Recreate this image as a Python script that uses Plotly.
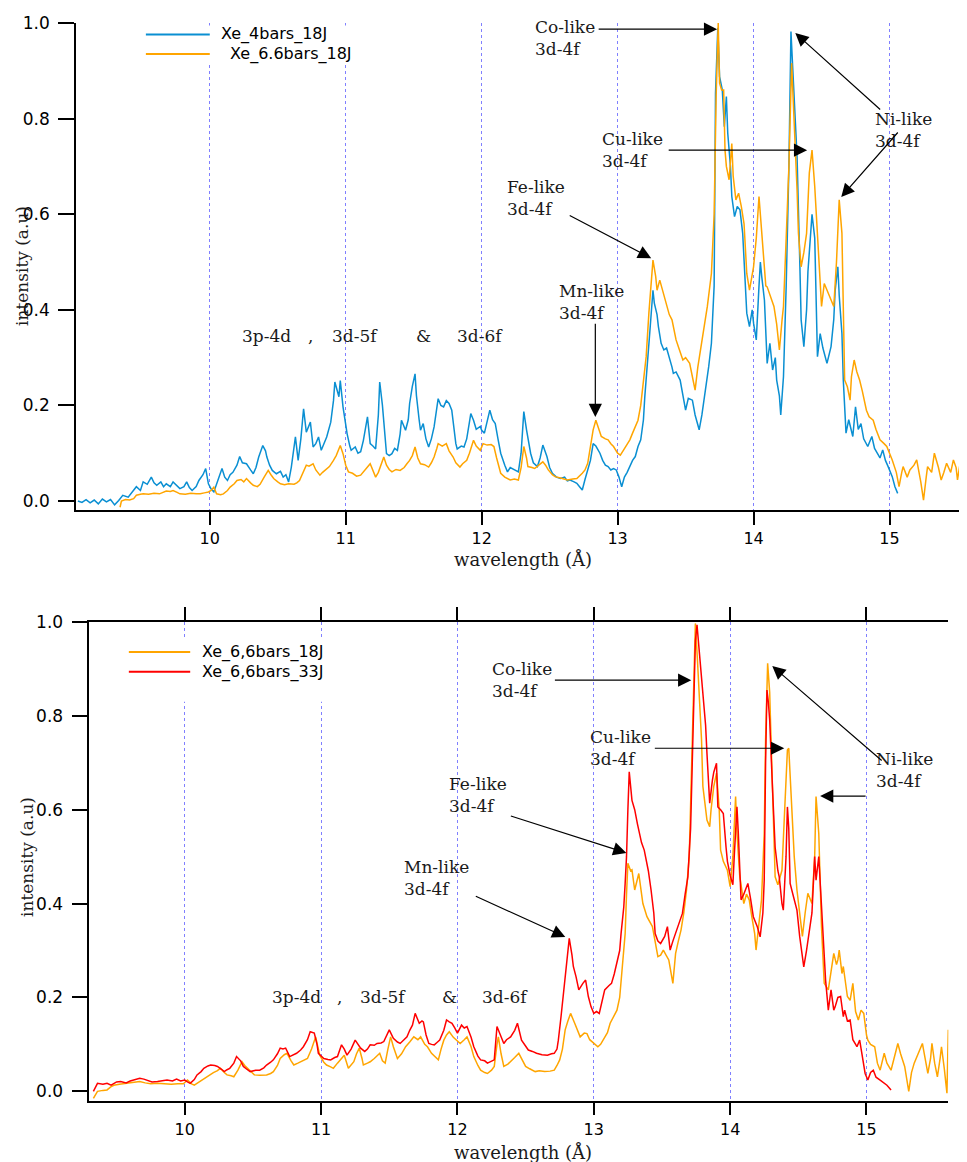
import plotly.graph_objects as go

# page is 967x1162; the html body keeps its default 8px margin, so the figure is 8px smaller
PAGE_W, PAGE_H = 967, 1162
FW, FH = PAGE_W - 8, PAGE_H - 8


def fx(px):
    return (px - 8) / FW


def fy(py):
    return 1 - (py - 8) / FH


# ---- spectra: (wavelength in A, normalised intensity) ----
# top panel
xe_4bars_18J = [
    (9.03, 0.0), (9.06, -0.003), (9.09, 0.003), (9.12, -0.004), (9.15, 0.002), (9.18, -0.006), (9.21, 0.004),
    (9.24, -0.002), (9.27, 0.003), (9.30, -0.008), (9.33, 0.001), (9.36, 0.012), (9.40, 0.008), (9.43, 0.02),
    (9.46, 0.03), (9.49, 0.022), (9.51, 0.04), (9.54, 0.035), (9.57, 0.05), (9.59, 0.038), (9.61, 0.033),
    (9.64, 0.04), (9.66, 0.03), (9.68, 0.036), (9.71, 0.03), (9.73, 0.04), (9.76, 0.032), (9.78, 0.026),
    (9.81, 0.03), (9.83, 0.04), (9.85, 0.028), (9.87, 0.022), (9.90, 0.03), (9.92, 0.043), (9.95, 0.055),
    (9.97, 0.068), (9.99, 0.036), (10.01, 0.025), (10.03, 0.019), (10.06, 0.043), (10.09, 0.068), (10.11, 0.05),
    (10.13, 0.043), (10.15, 0.055), (10.17, 0.06), (10.20, 0.075), (10.22, 0.093), (10.24, 0.08), (10.27, 0.078),
    (10.30, 0.065), (10.32, 0.057), (10.34, 0.07), (10.36, 0.092), (10.39, 0.116), (10.41, 0.105), (10.42, 0.092),
    (10.44, 0.075), (10.46, 0.064), (10.49, 0.057), (10.52, 0.062), (10.54, 0.05), (10.56, 0.055), (10.58, 0.04),
    (10.60, 0.071), (10.63, 0.134), (10.65, 0.085), (10.67, 0.13), (10.69, 0.193), (10.71, 0.144), (10.74, 0.165),
    (10.76, 0.113), (10.78, 0.12), (10.80, 0.134), (10.82, 0.106), (10.84, 0.12), (10.86, 0.134), (10.89, 0.165),
    (10.91, 0.21), (10.92, 0.249), (10.94, 0.23), (10.95, 0.218), (10.96, 0.252), (10.98, 0.197), (11.00, 0.16),
    (11.01, 0.141), (11.03, 0.115), (11.04, 0.106), (11.07, 0.113), (11.09, 0.1), (11.11, 0.103), (11.13, 0.127),
    (11.16, 0.176), (11.18, 0.12), (11.20, 0.115), (11.22, 0.109), (11.24, 0.18), (11.25, 0.249), (11.27, 0.2),
    (11.28, 0.162), (11.30, 0.099), (11.32, 0.095), (11.34, 0.099), (11.36, 0.11), (11.38, 0.106), (11.40, 0.14),
    (11.41, 0.169), (11.44, 0.148), (11.46, 0.17), (11.47, 0.204), (11.49, 0.24), (11.51, 0.266), (11.52, 0.221),
    (11.54, 0.17), (11.55, 0.148), (11.57, 0.162), (11.59, 0.13), (11.61, 0.113), (11.63, 0.13), (11.65, 0.155),
    (11.67, 0.2), (11.68, 0.214), (11.70, 0.2), (11.72, 0.197), (11.74, 0.21), (11.76, 0.204), (11.78, 0.19),
    (11.79, 0.162), (11.81, 0.12), (11.82, 0.109), (11.85, 0.115), (11.87, 0.113), (11.89, 0.13), (11.91, 0.165),
    (11.92, 0.183), (11.94, 0.169), (11.96, 0.15), (11.99, 0.156), (12.00, 0.148), (12.02, 0.142), (12.04, 0.165),
    (12.06, 0.19), (12.08, 0.17), (12.10, 0.162), (12.12, 0.13), (12.14, 0.1), (12.17, 0.075), (12.19, 0.061),
    (12.21, 0.07), (12.24, 0.065), (12.27, 0.061), (12.29, 0.1), (12.31, 0.187), (12.33, 0.149), (12.36, 0.1),
    (12.38, 0.08), (12.41, 0.072), (12.43, 0.09), (12.45, 0.117), (12.48, 0.093), (12.50, 0.07), (12.52, 0.058),
    (12.55, 0.05), (12.58, 0.047), (12.61, 0.05), (12.63, 0.042), (12.65, 0.044), (12.68, 0.04), (12.70, 0.037),
    (12.72, 0.03), (12.74, 0.023), (12.76, 0.045), (12.78, 0.065), (12.80, 0.085), (12.82, 0.12), (12.84, 0.115),
    (12.87, 0.1), (12.89, 0.085), (12.91, 0.075), (12.93, 0.072), (12.95, 0.065), (12.97, 0.068), (12.99, 0.065),
    (13.01, 0.05), (13.03, 0.03), (13.05, 0.05), (13.07, 0.06), (13.09, 0.072), (13.11, 0.085), (13.13, 0.093),
    (13.15, 0.114), (13.17, 0.128), (13.19, 0.17), (13.20, 0.218), (13.22, 0.3), (13.24, 0.365), (13.26, 0.441),
    (13.27, 0.414), (13.29, 0.39), (13.30, 0.365), (13.32, 0.33), (13.34, 0.316), (13.36, 0.32), (13.38, 0.302),
    (13.40, 0.28), (13.41, 0.267), (13.43, 0.27), (13.46, 0.253), (13.48, 0.22), (13.50, 0.19), (13.52, 0.215),
    (13.55, 0.211), (13.57, 0.18), (13.60, 0.149), (13.62, 0.18), (13.64, 0.218), (13.66, 0.26), (13.67, 0.281),
    (13.69, 0.33), (13.71, 0.45), (13.72, 0.853), (13.737, 0.99), (13.75, 0.888), (13.77, 0.86), (13.785, 0.783),
    (13.80, 0.846), (13.81, 0.77), (13.83, 0.70), (13.84, 0.637), (13.86, 0.595), (13.88, 0.616), (13.90, 0.609),
    (13.92, 0.56), (13.94, 0.45), (13.95, 0.393), (13.97, 0.365), (13.99, 0.4), (14.00, 0.372), (14.02, 0.337),
    (14.04, 0.45), (14.05, 0.50), (14.06, 0.47), (14.08, 0.42), (14.10, 0.288), (14.12, 0.33), (14.14, 0.274),
    (14.16, 0.3), (14.17, 0.253), (14.19, 0.22), (14.20, 0.18), (14.22, 0.26), (14.24, 0.45), (14.26, 0.70),
    (14.275, 0.982), (14.29, 0.9), (14.30, 0.853), (14.32, 0.72), (14.34, 0.5), (14.35, 0.379), (14.37, 0.323),
    (14.39, 0.4), (14.40, 0.48), (14.42, 0.56), (14.43, 0.6), (14.45, 0.55), (14.47, 0.302), (14.49, 0.35),
    (14.51, 0.32), (14.54, 0.288), (14.57, 0.323), (14.59, 0.38), (14.60, 0.44), (14.62, 0.49), (14.63, 0.43),
    (14.65, 0.35), (14.66, 0.253), (14.68, 0.142), (14.70, 0.17), (14.73, 0.135), (14.75, 0.197), (14.77, 0.15),
    (14.79, 0.162), (14.81, 0.13), (14.84, 0.114), (14.87, 0.135), (14.89, 0.11), (14.91, 0.1), (14.93, 0.09),
    (14.95, 0.107), (14.97, 0.085), (14.99, 0.072), (15.02, 0.051), (15.04, 0.03), (15.06, 0.016),
]

xe_6p6bars_18J_top = [
    (9.34, -0.013), (9.35, 0.0), (9.38, 0.003), (9.41, 0.002), (9.44, 0.005), (9.46, 0.012), (9.49, 0.014),
    (9.51, 0.015), (9.55, 0.014), (9.59, 0.016), (9.63, 0.015), (9.66, 0.018), (9.68, 0.021), (9.71, 0.02),
    (9.73, 0.022), (9.76, 0.018), (9.78, 0.015), (9.82, 0.014), (9.86, 0.016), (9.90, 0.015), (9.93, 0.015),
    (9.96, 0.017), (9.99, 0.019), (10.01, 0.022), (10.03, 0.029), (10.05, 0.015), (10.08, 0.013), (10.10, 0.015),
    (10.13, 0.022), (10.15, 0.029), (10.18, 0.036), (10.20, 0.043), (10.23, 0.045), (10.25, 0.04), (10.27, 0.047),
    (10.30, 0.038), (10.32, 0.033), (10.35, 0.03), (10.37, 0.035), (10.40, 0.05), (10.43, 0.064), (10.45, 0.055),
    (10.47, 0.047), (10.50, 0.04), (10.52, 0.036), (10.55, 0.034), (10.58, 0.036), (10.62, 0.035), (10.64, 0.038),
    (10.66, 0.043), (10.68, 0.055), (10.71, 0.075), (10.73, 0.073), (10.76, 0.078), (10.78, 0.065), (10.81, 0.054),
    (10.83, 0.06), (10.86, 0.068), (10.88, 0.072), (10.91, 0.085), (10.93, 0.095), (10.96, 0.116), (10.98, 0.099),
    (11.00, 0.075), (11.02, 0.061), (11.05, 0.058), (11.08, 0.052), (11.11, 0.054), (11.13, 0.06), (11.16, 0.071),
    (11.18, 0.078), (11.20, 0.065), (11.22, 0.05), (11.24, 0.06), (11.26, 0.075), (11.28, 0.092), (11.30, 0.075),
    (11.32, 0.066), (11.34, 0.061), (11.37, 0.066), (11.40, 0.064), (11.43, 0.07), (11.45, 0.078), (11.47, 0.085),
    (11.49, 0.095), (11.51, 0.113), (11.53, 0.09), (11.55, 0.078), (11.58, 0.076), (11.61, 0.071), (11.63, 0.08),
    (11.65, 0.092), (11.67, 0.11), (11.68, 0.12), (11.71, 0.115), (11.74, 0.12), (11.76, 0.105), (11.79, 0.092),
    (11.81, 0.08), (11.84, 0.071), (11.86, 0.078), (11.89, 0.085), (11.91, 0.1), (11.94, 0.127), (11.96, 0.115),
    (11.99, 0.106), (12.01, 0.12), (12.04, 0.117), (12.07, 0.118), (12.09, 0.114), (12.11, 0.09), (12.14, 0.058),
    (12.17, 0.05), (12.21, 0.044), (12.24, 0.046), (12.27, 0.044), (12.29, 0.07), (12.31, 0.114), (12.33, 0.09),
    (12.34, 0.072), (12.37, 0.07), (12.39, 0.068), (12.42, 0.075), (12.45, 0.082), (12.47, 0.075), (12.49, 0.065),
    (12.52, 0.055), (12.54, 0.051), (12.58, 0.048), (12.63, 0.044), (12.67, 0.046), (12.70, 0.047), (12.74, 0.058),
    (12.76, 0.065), (12.78, 0.079), (12.80, 0.11), (12.82, 0.149), (12.84, 0.169), (12.86, 0.15), (12.88, 0.135),
    (12.91, 0.13), (12.93, 0.128), (12.95, 0.12), (12.97, 0.114), (13.00, 0.1), (13.02, 0.096), (13.04, 0.105),
    (13.06, 0.114), (13.09, 0.128), (13.11, 0.142), (13.13, 0.155), (13.15, 0.169), (13.17, 0.2), (13.19, 0.253),
    (13.21, 0.302), (13.23, 0.393), (13.24, 0.434), (13.26, 0.504), (13.28, 0.47), (13.29, 0.441), (13.31, 0.462),
    (13.34, 0.43), (13.36, 0.407), (13.38, 0.39), (13.40, 0.379), (13.43, 0.337), (13.45, 0.32), (13.48, 0.295),
    (13.50, 0.3), (13.53, 0.288), (13.55, 0.26), (13.57, 0.232), (13.59, 0.28), (13.61, 0.316), (13.63, 0.36),
    (13.66, 0.407), (13.69, 0.476), (13.71, 0.6), (13.725, 0.85), (13.74, 1.0), (13.75, 0.874), (13.765, 0.86),
    (13.78, 0.86), (13.79, 0.734), (13.80, 0.7), (13.82, 0.672), (13.84, 0.748), (13.85, 0.68), (13.87, 0.63),
    (13.89, 0.644), (13.91, 0.616), (13.93, 0.58), (13.95, 0.476), (13.97, 0.441), (14.00, 0.49), (14.02, 0.55),
    (14.04, 0.637), (14.05, 0.6), (14.07, 0.52), (14.09, 0.45), (14.10, 0.448), (14.12, 0.43), (14.15, 0.407),
    (14.17, 0.37), (14.19, 0.316), (14.21, 0.38), (14.22, 0.407), (14.24, 0.55), (14.26, 0.7), (14.28, 0.916),
    (14.29, 0.85), (14.30, 0.804), (14.32, 0.65), (14.33, 0.56), (14.35, 0.49), (14.37, 0.52), (14.39, 0.56),
    (14.41, 0.686), (14.43, 0.734), (14.45, 0.658), (14.47, 0.56), (14.49, 0.45), (14.50, 0.407), (14.52, 0.455),
    (14.54, 0.441), (14.57, 0.42), (14.59, 0.407), (14.61, 0.5), (14.63, 0.63), (14.65, 0.56), (14.66, 0.4),
    (14.67, 0.253), (14.69, 0.239), (14.71, 0.211), (14.72, 0.26), (14.74, 0.295), (14.76, 0.27), (14.78, 0.253),
    (14.80, 0.23), (14.81, 0.218), (14.83, 0.19), (14.85, 0.176), (14.88, 0.169), (14.90, 0.15), (14.93, 0.128),
    (14.96, 0.12), (14.98, 0.114), (15.00, 0.1), (15.02, 0.086), (15.05, 0.06), (15.07, 0.03), (15.09, 0.06),
    (15.10, 0.072), (15.13, 0.05), (15.15, 0.065), (15.18, 0.075), (15.20, 0.086), (15.23, 0.04), (15.25, 0.002),
    (15.27, 0.05), (15.28, 0.072), (15.31, 0.06), (15.33, 0.1), (15.36, 0.07), (15.38, 0.044), (15.40, 0.06),
    (15.42, 0.079), (15.45, 0.06), (15.47, 0.086), (15.49, 0.07), (15.50, 0.044), (15.52, 0.08), (15.53, 0.093),
    (15.54, 0.002), (15.56, 0.05), (15.57, 0.044),
]

# bottom panel
xe_6p6bars_18J_bot = [
    (9.33, -0.015), (9.36, 0.0), (9.40, 0.002), (9.43, 0.003), (9.46, 0.01), (9.48, 0.013), (9.52, 0.015),
    (9.55, 0.016), (9.60, 0.018), (9.64, 0.019), (9.67, 0.021), (9.71, 0.018), (9.75, 0.016), (9.80, 0.017),
    (9.85, 0.016), (9.90, 0.015), (9.95, 0.016), (9.99, 0.016), (10.02, 0.024), (10.05, 0.016), (10.07, 0.013),
    (10.09, 0.017), (10.11, 0.021), (10.14, 0.026), (10.16, 0.031), (10.19, 0.036), (10.21, 0.04), (10.24, 0.044),
    (10.26, 0.049), (10.29, 0.04), (10.31, 0.035), (10.34, 0.033), (10.36, 0.031), (10.39, 0.045), (10.42, 0.063),
    (10.44, 0.055), (10.46, 0.049), (10.49, 0.04), (10.51, 0.035), (10.55, 0.034), (10.60, 0.035), (10.63, 0.038),
    (10.65, 0.042), (10.68, 0.055), (10.70, 0.07), (10.73, 0.078), (10.75, 0.081), (10.78, 0.065), (10.80, 0.056),
    (10.83, 0.06), (10.85, 0.063), (10.88, 0.066), (10.90, 0.07), (10.93, 0.09), (10.96, 0.116), (10.98, 0.09),
    (10.99, 0.077), (11.02, 0.062), (11.04, 0.056), (11.07, 0.052), (11.09, 0.049), (11.12, 0.06), (11.15, 0.07),
    (11.17, 0.077), (11.20, 0.049), (11.22, 0.055), (11.24, 0.063), (11.26, 0.08), (11.28, 0.092), (11.30, 0.07),
    (11.31, 0.056), (11.34, 0.06), (11.36, 0.063), (11.39, 0.07), (11.43, 0.081), (11.45, 0.065), (11.47, 0.06),
    (11.49, 0.09), (11.51, 0.116), (11.53, 0.095), (11.56, 0.07), (11.59, 0.08), (11.62, 0.095), (11.65, 0.105),
    (11.68, 0.116), (11.71, 0.11), (11.73, 0.116), (11.76, 0.1), (11.78, 0.095), (11.81, 0.081), (11.84, 0.072),
    (11.86, 0.067), (11.88, 0.09), (11.90, 0.109), (11.92, 0.12), (11.94, 0.127), (11.97, 0.115), (11.99, 0.109),
    (12.02, 0.102), (12.05, 0.11), (12.07, 0.116), (12.10, 0.095), (12.12, 0.074), (12.15, 0.055), (12.17, 0.045),
    (12.20, 0.04), (12.22, 0.038), (12.25, 0.045), (12.27, 0.053), (12.29, 0.1), (12.30, 0.116), (12.32, 0.08),
    (12.34, 0.053), (12.37, 0.058), (12.39, 0.063), (12.42, 0.072), (12.45, 0.081), (12.48, 0.065), (12.50, 0.053),
    (12.53, 0.048), (12.57, 0.042), (12.60, 0.044), (12.64, 0.042), (12.68, 0.043), (12.71, 0.045), (12.73, 0.055),
    (12.75, 0.067), (12.77, 0.09), (12.79, 0.131), (12.81, 0.15), (12.83, 0.166), (12.86, 0.145), (12.88, 0.13),
    (12.90, 0.116), (12.93, 0.124), (12.95, 0.123), (12.97, 0.11), (13.00, 0.102), (13.03, 0.095), (13.05, 0.1),
    (13.08, 0.116), (13.10, 0.125), (13.12, 0.145), (13.15, 0.16), (13.17, 0.173), (13.19, 0.2), (13.20, 0.23),
    (13.22, 0.3), (13.23, 0.336), (13.24, 0.42), (13.25, 0.486), (13.27, 0.47), (13.28, 0.472), (13.30, 0.429),
    (13.33, 0.464), (13.36, 0.4), (13.39, 0.372), (13.43, 0.351), (13.45, 0.32), (13.47, 0.287), (13.49, 0.29),
    (13.51, 0.301), (13.53, 0.29), (13.55, 0.28), (13.58, 0.23), (13.60, 0.294), (13.62, 0.32), (13.64, 0.344),
    (13.66, 0.38), (13.68, 0.429), (13.70, 0.5), (13.72, 0.75), (13.735, 0.93), (13.745, 0.997), (13.76, 0.92),
    (13.77, 0.862), (13.78, 0.827), (13.79, 0.75), (13.80, 0.65), (13.82, 0.6), (13.83, 0.578), (13.85, 0.564),
    (13.86, 0.6), (13.88, 0.65), (13.90, 0.678), (13.92, 0.6), (13.93, 0.514), (13.95, 0.49), (13.98, 0.471),
    (14.00, 0.436), (14.02, 0.5), (14.04, 0.628), (14.05, 0.55), (14.07, 0.46), (14.10, 0.4), (14.12, 0.42),
    (14.14, 0.408), (14.16, 0.37), (14.18, 0.336), (14.19, 0.301), (14.21, 0.36), (14.23, 0.408), (14.25, 0.55),
    (14.26, 0.75), (14.275, 0.912), (14.29, 0.85), (14.30, 0.75), (14.32, 0.55), (14.33, 0.457), (14.35, 0.44),
    (14.38, 0.471), (14.40, 0.6), (14.42, 0.727), (14.43, 0.731), (14.45, 0.62), (14.47, 0.5), (14.49, 0.429),
    (14.51, 0.38), (14.53, 0.33), (14.55, 0.38), (14.57, 0.422), (14.60, 0.4), (14.62, 0.5), (14.63, 0.628),
    (14.65, 0.55), (14.67, 0.35), (14.69, 0.23), (14.72, 0.216), (14.74, 0.26), (14.76, 0.294), (14.78, 0.27),
    (14.79, 0.28), (14.80, 0.301), (14.82, 0.251), (14.83, 0.266), (14.86, 0.202), (14.88, 0.194), (14.90, 0.23),
    (14.92, 0.17), (14.94, 0.152), (14.96, 0.173), (14.98, 0.166), (15.00, 0.12), (15.01, 0.109), (15.03, 0.1),
    (15.06, 0.095), (15.08, 0.06), (15.10, 0.045), (15.13, 0.081), (15.15, 0.06), (15.18, 0.045), (15.20, 0.07),
    (15.23, 0.102), (15.25, 0.08), (15.28, 0.053), (15.31, 0.0), (15.33, 0.04), (15.35, 0.06), (15.38, 0.08),
    (15.41, 0.102), (15.43, 0.07), (15.45, 0.038), (15.47, 0.07), (15.48, 0.102), (15.50, 0.06), (15.52, 0.031),
    (15.54, 0.07), (15.55, 0.095), (15.57, 0.05), (15.59, -0.004), (15.60, 0.131),
]

xe_6p6bars_33J = [
    (9.33, 0.0), (9.36, 0.017), (9.40, 0.015), (9.43, 0.017), (9.46, 0.013), (9.50, 0.02), (9.53, 0.021),
    (9.57, 0.018), (9.60, 0.022), (9.63, 0.024), (9.67, 0.028), (9.70, 0.026), (9.72, 0.024), (9.76, 0.02),
    (9.80, 0.021), (9.84, 0.022), (9.87, 0.024), (9.91, 0.022), (9.94, 0.026), (9.97, 0.022), (10.00, 0.024),
    (10.02, 0.02), (10.04, 0.017), (10.07, 0.025), (10.09, 0.035), (10.12, 0.042), (10.14, 0.049), (10.17, 0.054),
    (10.19, 0.056), (10.22, 0.055), (10.24, 0.053), (10.27, 0.047), (10.29, 0.042), (10.31, 0.046), (10.33, 0.049),
    (10.36, 0.06), (10.38, 0.074), (10.41, 0.065), (10.43, 0.053), (10.46, 0.046), (10.48, 0.042), (10.52, 0.045),
    (10.55, 0.045), (10.58, 0.05), (10.60, 0.056), (10.63, 0.062), (10.65, 0.067), (10.68, 0.08), (10.70, 0.092),
    (10.72, 0.09), (10.74, 0.092), (10.77, 0.074), (10.80, 0.078), (10.82, 0.081), (10.85, 0.088), (10.87, 0.095),
    (10.90, 0.11), (10.92, 0.127), (10.95, 0.124), (10.97, 0.1), (10.98, 0.081), (11.00, 0.075), (11.02, 0.07),
    (11.05, 0.068), (11.07, 0.067), (11.10, 0.072), (11.12, 0.074), (11.15, 0.099), (11.17, 0.09), (11.19, 0.077),
    (11.22, 0.09), (11.25, 0.109), (11.27, 0.1), (11.29, 0.092), (11.32, 0.085), (11.34, 0.09), (11.36, 0.099),
    (11.39, 0.098), (11.41, 0.102), (11.44, 0.103), (11.46, 0.106), (11.48, 0.12), (11.50, 0.131), (11.53, 0.113),
    (11.56, 0.105), (11.58, 0.102), (11.61, 0.11), (11.63, 0.116), (11.65, 0.13), (11.67, 0.141), (11.69, 0.166),
    (11.71, 0.15), (11.72, 0.145), (11.74, 0.15), (11.75, 0.148), (11.77, 0.12), (11.79, 0.102), (11.81, 0.1),
    (11.83, 0.099), (11.85, 0.104), (11.87, 0.109), (11.90, 0.13), (11.92, 0.152), (11.94, 0.148), (11.96, 0.145),
    (11.98, 0.135), (12.00, 0.124), (12.03, 0.141), (12.05, 0.135), (12.07, 0.138), (12.10, 0.115), (12.12, 0.095),
    (12.15, 0.075), (12.17, 0.067), (12.20, 0.065), (12.22, 0.06), (12.25, 0.065), (12.27, 0.067), (12.29, 0.138),
    (12.31, 0.124), (12.34, 0.102), (12.36, 0.11), (12.39, 0.116), (12.42, 0.13), (12.44, 0.145), (12.47, 0.109),
    (12.50, 0.095), (12.52, 0.088), (12.55, 0.085), (12.58, 0.081), (12.62, 0.078), (12.66, 0.077), (12.69, 0.08),
    (12.71, 0.081), (12.73, 0.09), (12.74, 0.109), (12.76, 0.16), (12.78, 0.216), (12.80, 0.28), (12.82, 0.326),
    (12.84, 0.29), (12.85, 0.266), (12.87, 0.244), (12.89, 0.216), (12.92, 0.23), (12.94, 0.237), (12.96, 0.202),
    (12.98, 0.18), (13.00, 0.166), (13.02, 0.17), (13.04, 0.166), (13.06, 0.19), (13.08, 0.216), (13.11, 0.225),
    (13.13, 0.23), (13.15, 0.25), (13.17, 0.273), (13.19, 0.3), (13.20, 0.336), (13.22, 0.393), (13.23, 0.443),
    (13.24, 0.5), (13.25, 0.6), (13.26, 0.681), (13.28, 0.62), (13.30, 0.6), (13.32, 0.57), (13.35, 0.53),
    (13.37, 0.514), (13.40, 0.47), (13.42, 0.429), (13.44, 0.38), (13.45, 0.336), (13.47, 0.32), (13.49, 0.315),
    (13.52, 0.33), (13.54, 0.351), (13.56, 0.301), (13.58, 0.32), (13.60, 0.336), (13.63, 0.36), (13.65, 0.379),
    (13.67, 0.42), (13.69, 0.457), (13.71, 0.56), (13.73, 0.8), (13.745, 0.96), (13.757, 0.994), (13.77, 0.95),
    (13.79, 0.898), (13.80, 0.862), (13.82, 0.78), (13.83, 0.72), (13.85, 0.614), (13.87, 0.663), (13.88, 0.68),
    (13.90, 0.699), (13.91, 0.606), (13.93, 0.6), (13.95, 0.592), (13.97, 0.52), (13.98, 0.49), (14.00, 0.46),
    (14.02, 0.44), (14.03, 0.5), (14.05, 0.606), (14.06, 0.55), (14.08, 0.408), (14.10, 0.42), (14.13, 0.443),
    (14.15, 0.41), (14.17, 0.372), (14.20, 0.35), (14.22, 0.329), (14.24, 0.38), (14.25, 0.45), (14.26, 0.7),
    (14.27, 0.855), (14.28, 0.83), (14.29, 0.791), (14.31, 0.65), (14.33, 0.52), (14.35, 0.47), (14.36, 0.457),
    (14.38, 0.4), (14.39, 0.386), (14.41, 0.5), (14.42, 0.606), (14.43, 0.56), (14.44, 0.443), (14.46, 0.42),
    (14.49, 0.386), (14.51, 0.33), (14.53, 0.28), (14.54, 0.265), (14.56, 0.3), (14.58, 0.343), (14.60, 0.38),
    (14.62, 0.5), (14.63, 0.45), (14.65, 0.5), (14.67, 0.393), (14.69, 0.3), (14.70, 0.237), (14.72, 0.173),
    (14.74, 0.216), (14.76, 0.173), (14.77, 0.18), (14.79, 0.2), (14.81, 0.202), (14.83, 0.159), (14.84, 0.173),
    (14.86, 0.15), (14.88, 0.152), (14.90, 0.11), (14.93, 0.095), (14.95, 0.109), (14.97, 0.07), (14.99, 0.038),
    (15.01, 0.024), (15.03, 0.04), (15.05, 0.045), (15.07, 0.03), (15.10, 0.024), (15.12, 0.02), (15.15, 0.013),
    (15.18, 0.003),
]

x_ticks = [10, 11, 12, 13, 14, 15]
y_ticks = [0.0, 0.2, 0.4, 0.6, 0.8, 1.0]

BLUE = "#0a8fd2"
ORANGE = "#ffa500"
RED = "#ff0000"
GRID = "#8080ff"
SERIF = "DejaVu Serif"
SANS = "DejaVu Sans"
INK = "#1a1a1a"

fig = go.Figure()


def add_line(series, name, color, xa, ya):
    wl, inten = zip(*series)
    fig.add_trace(go.Scatter(x=list(wl), y=list(inten), name=name, mode="lines",
                             line=dict(color=color, width=1.5), xaxis=xa, yaxis=ya,
                             showlegend=False))


add_line(xe_4bars_18J, "Xe_4bars_18J", BLUE, "x", "y")
add_line(xe_6p6bars_18J_top, "Xe_6.6bars_18J", ORANGE, "x", "y")
add_line(xe_6p6bars_18J_bot, "Xe_6,6bars_18J", ORANGE, "x2", "y2")
add_line(xe_6p6bars_33J, "Xe_6,6bars_33J", RED, "x2", "y2")

ax_style = dict(showline=True, linecolor="black", linewidth=1.5, ticks="outside",
                tickcolor="black", tickwidth=1.5, zeroline=False, automargin=False)
x_font = dict(family=SANS, size=16, color="black")
y_font = dict(family=SANS, size=17, color="black")

fig.update_layout(
    width=FW, height=FH, autosize=False, showlegend=False,
    margin=dict(l=0, r=0, t=0, b=0, pad=0),
    paper_bgcolor="white", plot_bgcolor="white",
    xaxis=dict(domain=[fx(76), 1.0], range=[9.016, 15.57], tickvals=x_ticks, ticklen=13,
               tickfont=x_font, showgrid=True, gridcolor=GRID, griddash="dot", gridwidth=1,
               anchor="y", **ax_style),
    yaxis=dict(domain=[fy(510), fy(23)], range=[-0.0188, 1.0], tickvals=y_ticks, tickfont=y_font,
               tickformat=".1f", ticklen=16, ticklabelstandoff=5, showgrid=False, anchor="x", **ax_style),
    xaxis2=dict(domain=[fx(89.3), fx(948.3)], range=[9.30, 15.60], tickvals=x_ticks, ticklen=13,
                tickfont=x_font, mirror="ticks", showgrid=True, gridcolor=GRID, griddash="dot",
                gridwidth=1, anchor="y2", **ax_style),
    yaxis2=dict(domain=[fy(1100.7), fy(622)], range=[-0.02, 1.0], tickvals=y_ticks, tickfont=y_font,
                tickformat=".1f", ticklen=16, ticklabelstandoff=5, showgrid=False, anchor="x2", **ax_style),
)


# ---- manual legends (long line samples as in the original) ----
def legend_box(x0, y0, x1, y1, xr, yr):
    fig.add_shape(type="rect", x0=x0, x1=x1, y0=y0, y1=y1, xref=xr, yref=yr,
                  fillcolor="white", line=dict(width=0), layer="above")


def legend_item(xa, xb, y, color, text, xt, xr, yr):
    fig.add_shape(type="line", x0=xa, x1=xb, y0=y, y1=y, xref=xr, yref=yr,
                  line=dict(color=color, width=2), layer="above")
    fig.add_annotation(text=text, x=xt, y=y, xref=xr, yref=yr, showarrow=False,
                       xanchor="left", yanchor="middle",
                       font=dict(family=SANS, size=16, color="black"))


legend_box(9.57, 0.915, 11.15, 0.995, "x", "y")
legend_item(9.53, 10.0, 0.976, BLUE, "Xe_4bars_18J", 10.07, "x", "y")
legend_item(9.53, 10.0, 0.935, ORANGE, " Xe_6.6bars_18J", 10.10, "x", "y")

legend_box(9.6, 0.83, 11.3, 0.965, "x2", "y2")
legend_item(9.59, 10.04, 0.936, ORANGE, "Xe_6,6bars_18J", 10.11, "x2", "y2")
legend_item(9.59, 10.04, 0.894, RED, "Xe_6,6bars_33J", 10.11, "x2", "y2")


# ---- labels and arrows ----
def label(text, x, y, xr, yr, size=17):
    fig.add_annotation(text=text, x=x, y=y, xref=xr, yref=yr, showarrow=False,
                       xanchor="left", yanchor="middle", align="left",
                       font=dict(family=SERIF, size=size, color=INK))


def arrow(x0, y0, x1, y1, xr, yr):
    fig.add_annotation(text="", x=x1, y=y1, ax=x0, ay=y0, xref=xr, yref=yr, axref=xr, ayref=yr,
                       showarrow=True, arrowhead=2, arrowsize=2.2, arrowwidth=1.2,
                       arrowcolor="black", standoff=0, borderpad=0)


# top panel
label("Co-like<br>3d-4f", 12.379, 0.969, "x", "y")
arrow(12.857, 0.987, 13.732, 0.987, "x", "y")
label("Cu-like<br>3d-4f", 12.872, 0.734, "x", "y")
arrow(13.372, 0.734, 14.394, 0.734, "x", "y")
label("Ni-like<br>3d-4f", 14.88, 0.776, "x", "y")
arrow(14.935, 0.818, 14.307, 0.979, "x", "y")
arrow(15.064, 0.772, 14.645, 0.636, "x", "y")
label("Fe-like<br>3d-4f", 12.173, 0.634, "x", "y")
arrow(12.644, 0.598, 13.247, 0.508, "x", "y")
label("Mn-like<br>3d-4f", 12.557, 0.416, "x", "y")
arrow(12.836, 0.372, 12.836, 0.176, "x", "y")
for txt, xx in [("3p-4d", 10.223), (",", 10.709), ("3d-5f", 10.885), ("&", 11.503), ("3d-6f", 11.805)]:
    label(txt, xx, 0.345, "x", "y")

# bottom panel
label("Co-like<br>3d-4f", 12.241, 0.876, "x2", "y2")
arrow(12.711, 0.876, 13.715, 0.876, "x2", "y2")
label("Cu-like<br>3d-4f", 12.96, 0.731, "x2", "y2")
arrow(13.444, 0.731, 14.397, 0.731, "x2", "y2")
label("Ni-like<br>3d-4f", 15.057, 0.685, "x2", "y2")
arrow(15.115, 0.704, 14.309, 0.906, "x2", "y2")
arrow(14.997, 0.629, 14.66, 0.629, "x2", "y2")
label("Fe-like<br>3d-4f", 11.926, 0.632, "x2", "y2")
arrow(12.388, 0.587, 13.239, 0.508, "x2", "y2")
label("Mn-like<br>3d-4f", 11.596, 0.455, "x2", "y2")
arrow(12.131, 0.416, 12.791, 0.329, "x2", "y2")
for txt, xx in [("3p-4d", 10.628), (",", 11.105), ("3d-5f", 11.267), ("&", 11.875), ("3d-6f", 12.168)]:
    label(txt, xx, 0.201, "x2", "y2")

# axis titles (placed like the original, overlapping the tick labels a bit)
for xpx, ypx in ((22, 266), (27, 857)):
    fig.add_annotation(text="intensity (a.u)", x=fx(xpx), y=fy(ypx), xref="paper", yref="paper",
                       xanchor="center", yanchor="middle", showarrow=False, textangle=-90,
                       font=dict(family=SERIF, size=17, color=INK))
# x titles hang just under the tick labels
for ypx in (548, 1141):
    fig.add_annotation(text="wavelength (Å)", x=fx(523), y=fy(ypx), xref="paper", yref="paper",
                       xanchor="center", yanchor="top", showarrow=False, borderpad=0,
                       font=dict(family=SERIF, size=18, color=INK))

fig.write_html("out.html")
